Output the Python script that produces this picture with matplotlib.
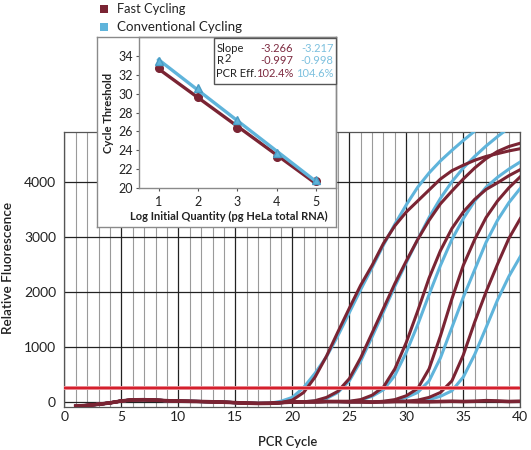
import matplotlib
matplotlib.use("Agg")
import matplotlib.pyplot as plt
from matplotlib.patches import Rectangle
import numpy as np

plt.rcParams['font.family'] = ['Lato', 'DejaVu Sans']

W, H = 531, 450

# ---------------- data ----------------
cycles = list(range(1, 41))

# shared pre-amplification baseline (cycles 1..40)
baseline = [-80, -65, -45, -20, 15, 35, 38, 30, 20, 12,
            8, 5, 0, -8, -15, -25, -30, -28, -15, -5,
            0, 0, 5, 5, 0, 0, -5, 0, 5, 5,
            0, 0, 5, 10, 5, 10, 20, 15, 5, 10]

# amplification segments: (first cycle of segment, values to cycle 40)
fast_start = [20, 22, 25, 28, 30]
fast_amp = [
    [30, 170, 450, 830, 1270, 1700, 2120, 2480, 2880, 3200, 3450, 3650, 3850,
     4050, 4200, 4300, 4390, 4460, 4510, 4560, 4600],
    [20, 80, 190, 420, 800, 1250, 1700, 2150, 2560, 2950, 3300, 3600, 3830,
     4050, 4250, 4420, 4550, 4640, 4700],
    [10, 40, 120, 270, 600, 1080, 1650, 2250, 2750, 3150, 3450, 3680, 3860,
     3980, 4110, 4220],
    [10, 40, 110, 240, 600, 1200, 1870, 2480, 2950, 3350, 3650, 3890, 4090],
    [10, 30, 80, 170, 380, 850, 1450, 2000, 2500, 2970, 3330],
]
conv_start = [19, 22, 25, 28, 31]
conv_amp = [
    [10, 80, 260, 520, 820, 1200, 1620, 2040, 2440, 2850, 3230, 3580, 3900,
     4160, 4380, 4570, 4750, 4920, 5080, 5200, 5300, 5400],
    [15, 60, 170, 380, 740, 1180, 1640, 2100, 2530, 2950, 3350, 3700, 4000,
     4250, 4460, 4650, 4820, 4980, 5100],
    [5, 30, 100, 220, 480, 900, 1400, 1950, 2480, 2950, 3330, 3650, 3900,
     4080, 4230, 4360],
    [5, 25, 80, 170, 380, 800, 1350, 1900, 2400, 2900, 3300, 3620, 3880],
    [10, 40, 100, 200, 450, 860, 1350, 1850, 2280, 2640],
]
threshold = 250

# inset standard curve
log_qty = [1, 2, 3, 4, 5]
ct_fast = [32.7, 29.7, 26.4, 23.3, 20.7]
ct_conv = [33.5, 30.6, 27.2, 23.7, 20.8]
stats_rows = ["Slope", "R", "PCR Eff."]
stats_fast = ["-3.266", "-0.997", "102.4%"]
stats_conv = ["-3.217", "-0.998", "104.6%"]

main_xticks = [0, 5, 10, 15, 20, 25, 30, 35, 40]
main_yticks = [0, 1000, 2000, 3000, 4000]
inset_yticks = [20, 22, 24, 26, 28, 30, 32, 34]

RED = '#7a2433'
BLUE = '#5fb4db'
RED_TXT = '#7d2a40'
BLUE_TXT = '#7cc0de'
THR = '#d4202c'

# ---------------- figure ----------------
fig = plt.figure(figsize=(W / 100, H / 100), dpi=100)
renderer = fig.canvas.get_renderer()

def fx(px):
    return px / W

def fy(py):
    return 1 - py / H

def fit(t, target, vertical=False):
    bb = t.get_window_extent(renderer)
    size = bb.height if vertical else bb.width
    t.set_fontsize(t.get_fontsize() * target / size)
    return t.get_fontsize()

L, R_, T, B = 64.3, 520.3, 132.2, 407.3
ax = fig.add_axes([fx(L), fy(B), fx(R_) - fx(L), fy(T) - fy(B)])
ax.set_xlim(0, 40)
ax.set_ylim(-100, 4900)

# grid
for c in range(0, 41):
    if c % 5 == 0:
        ax.axvline(c, color='#222222', lw=0.9, zorder=1)
    else:
        ax.axvline(c, color='#9a9a9a', lw=0.8, zorder=1)
for v in main_yticks:
    ax.axhline(v, color='#222222', lw=0.9, zorder=1)
for s in ax.spines.values():
    s.set_color('#555555')
    s.set_linewidth(0.9)

ax.set_xticks(main_xticks)
ax.set_yticks(main_yticks)
ax.tick_params(length=0, labelsize=10, colors='#222222')
ax.tick_params(axis='x', pad=3)
ax.tick_params(axis='y', pad=6)

def build(start, amp):
    return baseline[:start - 1] + amp

for st, amp in zip(conv_start, conv_amp):
    y = build(st, amp)
    ax.plot(cycles[:len(y)], y, color=BLUE, lw=2.2, zorder=3)
for st, amp in zip(fast_start, fast_amp):
    y = build(st, amp)
    ax.plot(cycles[:len(y)], y, color=RED, lw=2.2, zorder=4)
# non-template baseline
ax.plot(cycles, baseline, color=RED, lw=2.6, zorder=4)

ax.axhline(threshold, color='#ee9aa3', lw=2.8, zorder=5)
ax.axhline(threshold, color=THR, lw=1.7, zorder=5)

t = fig.text(fx(8.5), fy(268), 'Relative Fluorescence', rotation=90, ha='center',
             va='center', fontsize=10.5, fontweight='semibold', color='#222222')
fit(t, 132, vertical=True)
t = fig.text(fx(288), fy(441.5), 'PCR Cycle', ha='center', va='center',
             fontsize=10, fontweight='semibold', color='#222222')
fit(t, 59)

# ---------------- inset ----------------
bx0, by0, bx1, by1 = 96.7, 37.3, 335.5, 227
box = fig.add_axes([fx(bx0), fy(by1), fx(bx1) - fx(bx0), fy(by0) - fy(by1)])
box.set_xticks([])
box.set_yticks([])
box.set_facecolor('white')
for s in box.spines.values():
    s.set_color('#8a8a8a')
    s.set_linewidth(1.0)
box.set_zorder(10)

il, ir, it, ib = 139.0, 335.5, 37.3, 188.0
ins = fig.add_axes([fx(il), fy(ib), fx(ir) - fx(il), fy(it) - fy(ib)])
ins.set_zorder(11)
ins.set_facecolor('none')
ins.set_xlim(0.5, 5.5)
ins.set_ylim(20, 36)
ins.set_xticks(log_qty)
ins.set_yticks(inset_yticks)
ins.tick_params(direction='out', length=2.5, width=0.8, color='#555555',
                labelsize=9, colors='#222222')
ins.tick_params(axis='x', pad=3)
ins.tick_params(axis='y', pad=2)
for s in ins.spines.values():
    s.set_color('#8a8a8a')
    s.set_linewidth(1.0)

pf = np.polyfit(log_qty, ct_fast, 1)
pc = np.polyfit(log_qty, ct_conv, 1)
xs = np.array([log_qty[0], log_qty[-1]])
ins.plot(xs, np.polyval(pf, xs), color=RED, lw=2.4, zorder=3)
ins.plot(log_qty, ct_fast, 'o', color=RED, ms=5.5, zorder=4)
ins.plot(xs, np.polyval(pc, xs), color=BLUE, lw=2.4, zorder=5)
ins.plot(log_qty, ct_conv, '^', color=BLUE, ms=6, mec='#4a9cc4', zorder=6)

t = fig.text(fx(108.5), fy(112.5), 'Cycle Threshold', rotation=90, ha='center',
             va='center', fontsize=8.2, fontweight='bold', color='#222222', zorder=20)
fit(t, 81, vertical=True)
t = fig.text(fx(229), fy(216), 'Log Initial Quantity (pg HeLa total RNA)',
             ha='center', va='center', fontsize=8.2, fontweight='bold',
             color='#222222', zorder=20)
fit(t, 198)

# stats box
sx0, sy0, sx1, sy1 = 214, 38.0, 335.5, 84
ins.add_patch(Rectangle((fx(sx0), fy(sy1)), fx(sx1) - fx(sx0), fy(sy0) - fy(sy1),
                        transform=fig.transFigure, facecolor='white',
                        edgecolor='#555555', lw=1.0, zorder=7, clip_on=False))
stat_fs = 8.0
row_y = [48.5, 61, 73.5]
for i, (lab, vf, vc) in enumerate(zip(stats_rows, stats_fast, stats_conv)):
    yy = fy(row_y[i])
    fig.text(fx(216.5), yy, lab, ha='left', va='center', fontsize=stat_fs,
             color='#222222', zorder=30)
    fig.text(fx(293), yy, vf, ha='right', va='center', fontsize=stat_fs,
             color=RED_TXT, zorder=30)
    fig.text(fx(333.5), yy, vc, ha='right', va='center', fontsize=stat_fs,
             color=BLUE_TXT, zorder=30)
fig.text(fx(225), fy(58), '2', ha='left', va='center', fontsize=stat_fs,
         color='#222222', zorder=30)

# ---------------- legend ----------------
legend_labels = ['Fast Cycling', 'Conventional Cycling']
legend_colors = [RED, BLUE]
legend_y = [9, 27]
legend_w = [69, 125]
for lab, col, yy, wpx in zip(legend_labels, legend_colors, legend_y, legend_w):
    fig.add_artist(Rectangle((fx(100), fy(yy + 4)), fx(8.3), 8.3 / H,
                             transform=fig.transFigure, facecolor=col,
                             edgecolor='none'))
    t = fig.text(fx(116.5), fy(yy), lab, ha='left', va='center', fontsize=9.6,
                 color='#222222')
    fit(t, wpx)

fig.savefig('out.png', dpi=100)
